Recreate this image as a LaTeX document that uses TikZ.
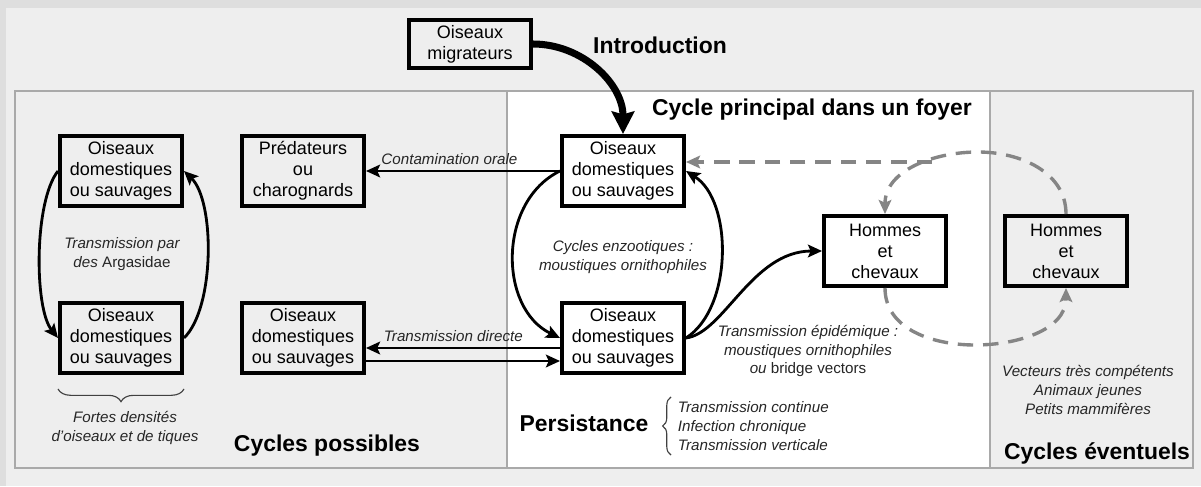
\documentclass[tikz,border=0pt]{standalone}
\usepackage{fontspec}
\setmainfont{Liberation Sans}
\usetikzlibrary{arrows.meta,decorations.pathreplacing}

\definecolor{pagegray}{HTML}{EEEEEE}
\definecolor{edgegray}{HTML}{DEDEDE}
\definecolor{framegray}{HTML}{A9A9A9}
\definecolor{vectgray}{HTML}{858585}

\begin{document}
\begin{tikzpicture}[x=0.025cm, y=-0.025cm,
  host/.style={draw, line width=2.8pt, minimum width=3.05cm, minimum height=1.75cm, inner sep=0pt, align=center, font=\fontsize{12.8}{15}\selectfont},
  lbl/.style={align=center, font=\fontsize{10.8}{13.4}\selectfont\itshape, text=black!85},
  title/.style={font=\fontsize{16.3}{19}\selectfont\bfseries},
  link/.style={line width=2pt, -{Stealth[length=10pt,width=9pt,inset=2pt]}},
  intro/.style={line width=5pt, -{Stealth[length=16pt,width=16pt,inset=2pt]}},
  vect/.style={vectgray, line width=2.4pt, dash pattern=on 11pt off 7pt, -{Stealth[length=10pt,width=9pt,inset=2pt]}},
  curly/.style={decorate, black!75, line width=0.8pt},
]

\fill[pagegray] (0,0) rectangle (1201,486);
\fill[edgegray] (0,0) rectangle (1201,8);
\fill[edgegray] (0,0) rectangle (6,486);
\useasboundingbox (0,0) rectangle (1201,486);

\fill[white] (507,91) rectangle (990,468);
\draw[framegray, line width=0.8pt] (15,91) rectangle (1193,468);
\draw[framegray, line width=0.8pt] (507,91) -- (507,468);
\draw[framegray, line width=0.8pt] (990,91) -- (990,468);

\node[host, minimum height=1.22cm] (mig) at (470,44) {Oiseaux\\migrateurs};
\node[host] (oL1) at (121,171) {Oiseaux\\domestiques\\ou sauvages};
\node[host] (oL2) at (121,338) {Oiseaux\\domestiques\\ou sauvages};
\node[host] (pred) at (303,171) {Prédateurs\\ou\\charognards};
\node[host] (oM2) at (303,338) {Oiseaux\\domestiques\\ou sauvages};
\node[host] (oC1) at (623,171) {Oiseaux\\domestiques\\ou sauvages};
\node[host] (oC2) at (623,338) {Oiseaux\\domestiques\\ou sauvages};
\node[host] (hC) at (885,251) {Hommes\\et\\chevaux};
\node[host] (hR) at (1066,251) {Hommes\\et\\chevaux};

\node[title] (tIntro) at (660,45) {Introduction};
\node[title] (tMain) at (812,110) {Cycle principal dans un foyer};
\node[title] (tPoss) at (327,446) {Cycles possibles};
\node[title] (tPers) at (584,423) {Persistance};
\node[title] (tEv) at (1097,453) {Cycles éventuels};

\node[lbl] (lArg) at (122,254) {Transmission par\\des \textup{Argasidae}};
\node[lbl] (lDens) at (125,428) {Fortes densités\\d'oiseaux et de tiques};
\node[lbl] (lEnz) at (623,257) {Cycles enzootiques :\\moustiques ornithophiles};
\node[lbl] (lEpi) at (808,351) {Transmission épidémique :\\moustiques ornithophiles\\ou \textup{bridge vectors}};
\node[lbl] (lVec) at (1088,390) {Vecteurs très compétents\\Animaux jeunes\\Petits mammifères};
\node[lbl, align=left, anchor=west] (lPers) at (673,426) {Transmission continue\\Infection chronique\\Transmission verticale};

\coordinate (pbBot) at (671,455);
\coordinate (pbTop) at (671,397);
\coordinate (arcTop) at (978,152);
\coordinate (arcBot) at (975,345);
\coordinate (jn) at (932,162);

\draw[intro] (mig.east) to[out=0,in=90] (oC1.north);

\draw[link] (oC1.west) -- node[lbl, above, pos=0.57] {Contamination orale} (pred.east);
\draw[link] ([yshift=-0.25cm]oC2.west) -- node[lbl, above, pos=0.55] {Transmission directe} ([yshift=-0.25cm]oM2.east);
\draw[link] ([yshift=-0.575cm]oM2.east) -- ([yshift=-0.575cm]oC2.west);

\draw[link] (oL1.west) .. controls +(-24,30) and +(-24,-30) .. (oL2.west);
\draw[link] (oL2.east) .. controls +(31,-30) and +(31,30) .. (oL1.east);
\draw[link] (oC1.west) .. controls +(-62,30) and +(-62,-30) .. (oC2.west);
\draw[link] (oC2.east) .. controls +(47,-30) and +(47,30) .. (oC1.east);
\draw[link] (oC2.east) .. controls +(38,-5) and +(-70,0) .. (hC.west);

\draw[vect] (hR.north) to[out=90,in=0] (arcTop) to[out=180,in=90] (hC.north);
\draw[vect] (jn) -- (jn -| oC1.east);
\draw[vect] (hC.south) to[out=-90,in=180] (arcBot) to[out=0,in=-90] (hR.south);

\draw[curly, decoration={brace, mirror, amplitude=9pt}] ([yshift=-0.35cm]oL2.south west) -- ([yshift=-0.35cm]oL2.south east);
\draw[curly, decoration={brace, amplitude=6pt}] (pbBot) -- (pbTop);

\end{tikzpicture}
\end{document}
